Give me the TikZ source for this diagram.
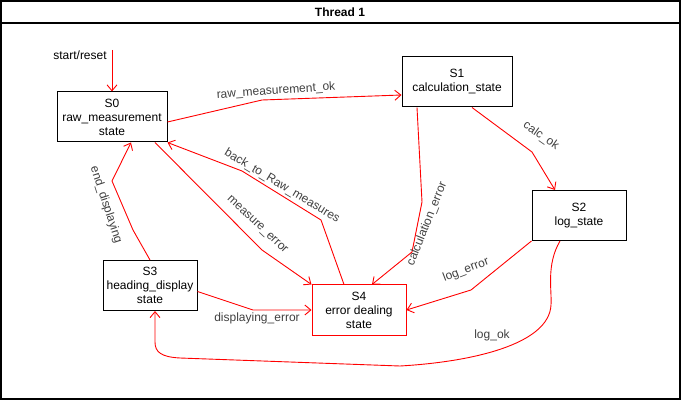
\documentclass[tikz,border=0pt]{standalone}
\usepackage{fontspec}
\setmainfont{Liberation Sans}
\usetikzlibrary{arrows.meta}

\begin{document}
\begin{tikzpicture}[x=1pt,y=-1pt,
  every node/.style={font=\fontsize{12}{14}\selectfont},
  state/.style={draw=black, fill=white, align=center, line width=1pt,
    minimum width=94pt, minimum height=50pt, inner sep=0pt},
  trans/.style={draw=red, line width=0.9pt,
    -{Straight Barb[length=6pt,width=10pt]}},
  lbl/.style={text=black!75, inner sep=1pt}]
\useasboundingbox (0,0) rectangle (681,401);
% frame and title
\draw[line width=1.4pt] (1,1) rectangle (680,399);
\draw[line width=1.2pt] (1,23) -- (680,23);
\node[font=\fontsize{12}{14}\selectfont\bfseries] (title) at (340,12) {Thread 1};
% states
\node[state, minimum width=110pt] (s0) at (112,117) {S0\\raw\_measurement\\state};
\node[state, minimum width=110pt] (s1) at (457,82) {S1\\calculation\_state};
\node[state] (s2) at (579,215.5) {S2\\log\_state};
\node[state] (s3) at (150,285.5) {S3\\heading\_display\\state};
\node[state, draw=red] (s4) at (359,310) {S4\\error dealing\\state};
% start
\coordinate (init) at (112,50);
\node (reset) at (80,55) {start/reset};
\draw[trans] (init) -- (s0.north);
% transitions
\draw[trans] ([yshift=-5pt]s0.east) -- (262,100) -- ([yshift=-13pt]s1.west);
\draw[trans] ([xshift=15pt]s1.south) -- (532,152) -- ([xshift=-24pt]s2.north);
\draw[trans] ([xshift=-40pt]s1.south) -- (422,202) -- (412,252) -- ([xshift=13pt]s4.north);
\draw[trans] ([xshift=43pt]s0.south) -- (262,250) -- (s4.north west);
\draw[trans] ([xshift=-15pt]s4.north) -- (321,220) -- (242,171) -- (s0.south east);
\draw[trans] (s3.north) -- (133,230) -- (112,181) -- ([xshift=19pt]s0.south);
\draw[trans] ([yshift=-6pt]s3.east) -- (253,310) -- (s4.west);
\draw[trans] (s2.south west) -- (471,290) -- (s4.east);
\draw[trans] ([xshift=-19pt]s2.south) .. controls (546,265) and (552,290) .. (551,305)
  .. controls (549,345) and (470,362) .. (400,366) -- (180,358)
  .. controls (161,357) and (155,352) .. (155,342) -- ([xshift=5pt]s3.south);
% labels
\node[lbl, rotate=4] (l-raw) at (276,91) {raw\_measurement\_ok};
\node[lbl, rotate=-35] (l-calc) at (541,136) {calc\_ok};
\node[lbl, rotate=68] (l-calcerr) at (427,224) {calculation\_error};
\node[lbl, rotate=-43] (l-meas) at (257,225) {measure\_error};
\node[lbl, rotate=-31] (l-back) at (282,186) {back\_to\_Raw\_measures};
\node[lbl, rotate=-72] (l-end) at (106,205) {end\_displaying};
\node[lbl] (l-disp) at (257,318) {displaying\_error};
\node[lbl, rotate=21] (l-log) at (466,270) {log\_error};
\node[lbl] (l-ok) at (492,335) {log\_ok};
\end{tikzpicture}
\end{document}
